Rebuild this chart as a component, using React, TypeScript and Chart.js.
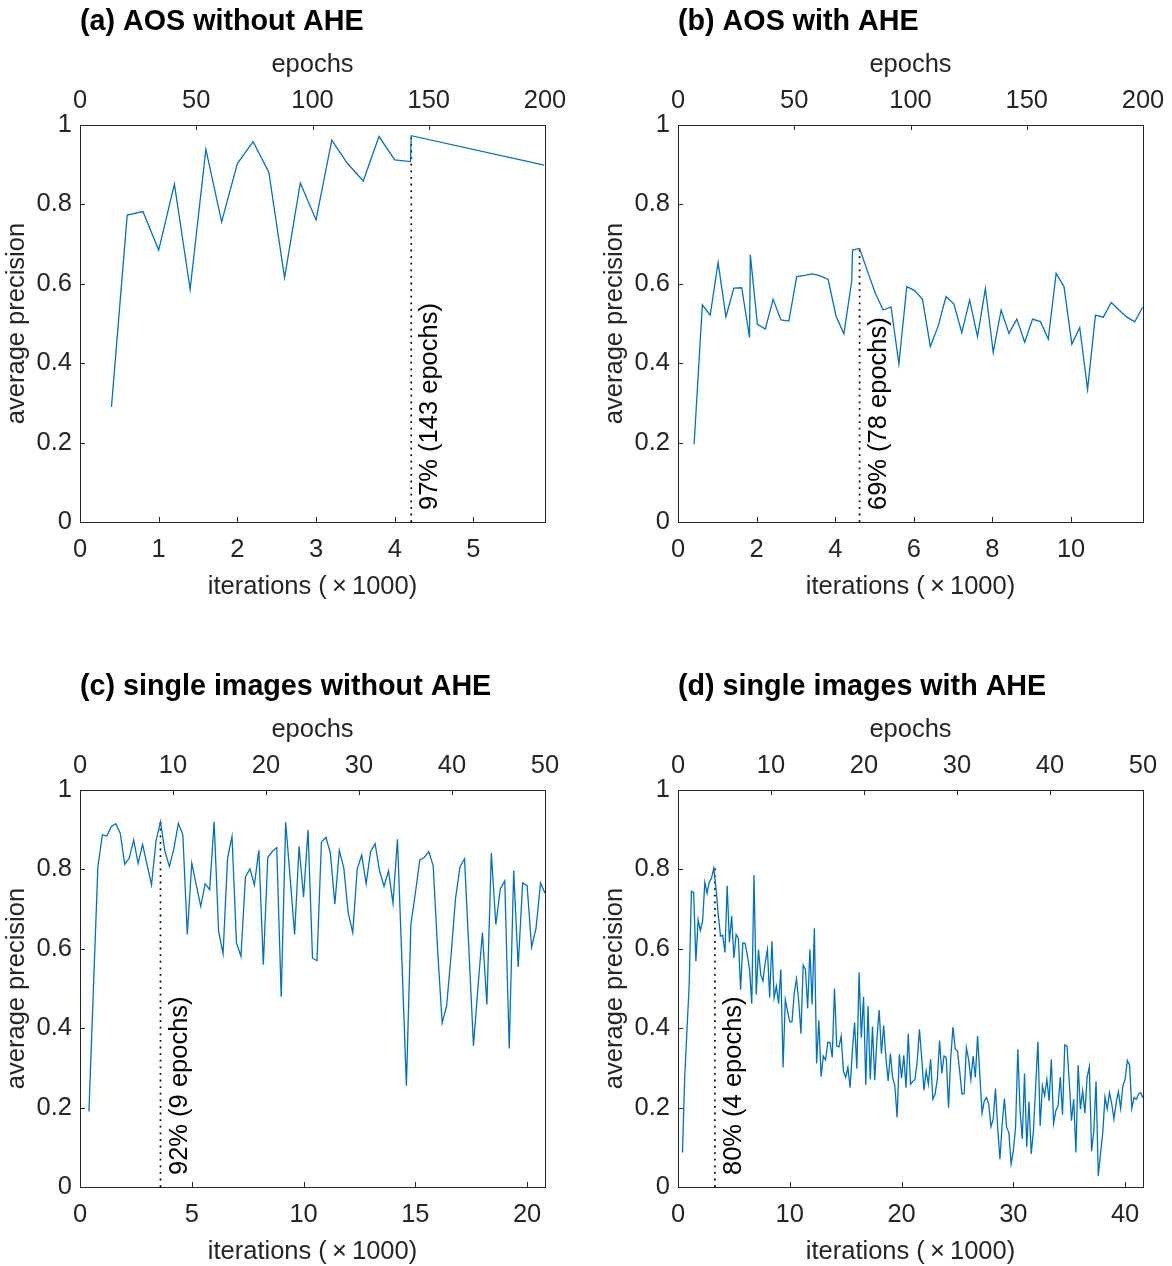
import React, { useEffect, useRef } from "react";
import { Chart, registerables } from "chart.js";

Chart.register(...registerables);

const FONT = '"Liberation Sans", Arial, Helvetica, sans-serif';
const LINE_BLUE = "#0072BD";
const AXIS_GRAY = "#262626";

// ---------- (a) AOS without AHE ----------
const aIter = [0.4, 0.6, 0.8, 1.0, 1.2, 1.4, 1.6, 1.8, 2.0, 2.2, 2.4, 2.6, 2.8, 3.0, 3.2, 3.4, 3.6, 3.8, 4.0, 4.2, 4.21, 5.9];
const aAP = [0.29, 0.773, 0.782, 0.685, 0.851, 0.586, 0.939, 0.756, 0.903, 0.958, 0.881, 0.615, 0.854, 0.761, 0.962, 0.903, 0.859, 0.971, 0.912, 0.908, 0.973, 0.899];

// ---------- (b) AOS with AHE ----------
const bIter = [0.41, 0.62, 0.82, 1.02, 1.22, 1.42, 1.62, 1.82, 1.84, 2.02, 2.22, 2.42, 2.62, 2.82, 3.02, 3.22, 3.42, 3.62, 3.82, 4.02, 4.22, 4.42, 4.44, 4.62, 4.82, 5.02, 5.22, 5.42, 5.62, 5.82, 6.02, 6.22, 6.42, 6.62, 6.82, 7.02, 7.22, 7.42, 7.62, 7.82, 8.02, 8.22, 8.42, 8.62, 8.82, 9.02, 9.22, 9.42, 9.62, 9.82, 10.02, 10.22, 10.42, 10.62, 10.82, 11.02, 11.22, 11.42, 11.62, 11.82];
const bAP = [0.196, 0.547, 0.521, 0.654, 0.517, 0.589, 0.59, 0.465, 0.673, 0.498, 0.486, 0.561, 0.509, 0.506, 0.618, 0.621, 0.625, 0.62, 0.611, 0.519, 0.474, 0.607, 0.685, 0.689, 0.632, 0.576, 0.534, 0.542, 0.398, 0.593, 0.583, 0.561, 0.442, 0.494, 0.568, 0.549, 0.477, 0.559, 0.467, 0.588, 0.427, 0.534, 0.475, 0.511, 0.453, 0.511, 0.505, 0.461, 0.626, 0.593, 0.448, 0.49, 0.334, 0.521, 0.516, 0.553, 0.534, 0.516, 0.504, 0.541];

// ---------- (c) single images without AHE (checkpoint every 0.2k iterations from 0.4k) ----------
const cFirstIter = 0.4;
const cIterStep = 0.2;
const cAP = [
  0.19, 0.5, 0.807, 0.887, 0.884, 0.908, 0.915, 0.891, 0.813, 0.828,
  0.874, 0.815, 0.863, 0.812, 0.761, 0.872, 0.92, 0.845, 0.807, 0.853,
  0.916, 0.887, 0.636, 0.816, 0.761, 0.707, 0.764, 0.749, 0.92, 0.644,
  0.587, 0.828, 0.883, 0.615, 0.581, 0.781, 0.801, 0.761, 0.848, 0.56,
  0.83, 0.845, 0.855, 0.479, 0.919, 0.778, 0.636, 0.858, 0.73, 0.899,
  0.577, 0.57, 0.869, 0.881, 0.841, 0.713, 0.848, 0.803, 0.69, 0.641,
  0.801, 0.836, 0.764, 0.845, 0.865, 0.796, 0.757, 0.796, 0.715, 0.876,
  0.569, 0.255, 0.661, 0.74, 0.824, 0.83, 0.845, 0.809, 0.594, 0.413,
  0.456, 0.585, 0.728, 0.807, 0.827, 0.594, 0.355, 0.502, 0.641, 0.46,
  0.841, 0.661, 0.751, 0.771, 0.349, 0.797, 0.554, 0.766, 0.759, 0.604,
  0.652, 0.766, 0.74,
];

// ---------- (d) single images with AHE (checkpoint every 0.2k iterations from 0.4k) ----------
const dFirstIter = 0.4;
const dIterStep = 0.2;
const dAP = [
  0.087, 0.276, 0.393, 0.51, 0.745, 0.742, 0.569, 0.673, 0.646, 0.669,
  0.767, 0.74, 0.768, 0.778, 0.803, 0.753, 0.686, 0.632, 0.634, 0.591,
  0.759, 0.616, 0.683, 0.577, 0.636, 0.627, 0.497, 0.615, 0.614, 0.585,
  0.548, 0.462, 0.786, 0.485, 0.598, 0.535, 0.519, 0.565, 0.598, 0.477,
  0.619, 0.477, 0.506, 0.462, 0.548, 0.301, 0.472, 0.443, 0.416, 0.416,
  0.489, 0.524, 0.468, 0.386, 0.559, 0.548, 0.45, 0.598, 0.46, 0.652,
  0.311, 0.42, 0.278, 0.33, 0.32, 0.364, 0.364, 0.326, 0.5, 0.355,
  0.353, 0.38, 0.292, 0.276, 0.301, 0.25, 0.343, 0.414, 0.298, 0.541,
  0.376, 0.479, 0.257, 0.456, 0.271, 0.404, 0.269, 0.376, 0.446, 0.336,
  0.407, 0.326, 0.267, 0.336, 0.276, 0.255, 0.175, 0.334, 0.274, 0.332,
  0.25, 0.386, 0.259, 0.266, 0.271, 0.317, 0.397, 0.326, 0.244, 0.292,
  0.259, 0.322, 0.221, 0.234, 0.271, 0.369, 0.286, 0.33, 0.326, 0.2,
  0.326, 0.403, 0.347, 0.343, 0.292, 0.234, 0.235, 0.351, 0.321, 0.271,
  0.33, 0.276, 0.38, 0.284, 0.186, 0.217, 0.225, 0.209, 0.152, 0.171,
  0.248, 0.15, 0.07, 0.158, 0.223, 0.15, 0.137, 0.058, 0.091, 0.15,
  0.347, 0.192, 0.121, 0.286, 0.101, 0.215, 0.083, 0.142, 0.255, 0.366,
  0.154, 0.255, 0.23, 0.271, 0.217, 0.322, 0.16, 0.192, 0.204, 0.277,
  0.182, 0.358, 0.355, 0.267, 0.167, 0.221, 0.087, 0.307, 0.196, 0.242,
  0.186, 0.276, 0.303, 0.09, 0.142, 0.266, 0.028, 0.083, 0.137, 0.227,
  0.196, 0.238, 0.21, 0.171, 0.213, 0.24, 0.198, 0.255, 0.271, 0.319,
  0.307, 0.198, 0.225, 0.221, 0.234, 0.238, 0.224,
];

// ---------- panel metadata ----------
const panelTitles = ["(a) AOS without AHE", "(b) AOS with AHE", "(c) single images without AHE", "(d) single images with AHE"];
const iterMax = [5.91, 11.83, 20.8, 41.6];
const iterTickStep = [1, 2, 5, 10];
const epochMax = [200, 200, 50, 50];
const epochTickStep = [50, 50, 10, 10];
const markerIter = [4.21, 4.62, 3.6, 3.3];
const markerAP = [0.973, 0.689, 0.92, 0.803];
const markerLabels = ["97% (143 epochs)", "69% (78 epochs)", "92% (9 epochs)", "80% (4 epochs)"];

const cIter = cAP.map((_, i) => +(cFirstIter + i * cIterStep).toFixed(2));
const dIter = dAP.map((_, i) => +(dFirstIter + i * dIterStep).toFixed(2));

const seriesIter = [aIter, bIter, cIter, dIter];
const seriesAP = [aAP, bAP, cAP, dAP];

const panelPos = [
  { left: 0, top: 0 },
  { left: 598, top: 0 },
  { left: 0, top: 665 },
  { left: 598, top: 665 },
];

const TICK_FONT = { family: FONT, size: 25.5 };

const zeroPad = (s: any) => {
  s.paddingLeft = 0;
  s.paddingRight = 0;
  s.paddingTop = 0;
  s.paddingBottom = 0;
};

const framePlugin = {
  id: "matlabFrame",
  afterDraw(chart: any, _args: any, opts: any) {
    const { ctx, chartArea: ca, scales } = chart;
    ctx.save();
    ctx.strokeStyle = AXIS_GRAY;
    ctx.lineWidth = 1;
    ctx.beginPath();
    const TL = 5;
    for (const t of scales.x.ticks) {
      const px = Math.round(scales.x.getPixelForValue(t.value)) + 0.5;
      ctx.moveTo(px, ca.bottom);
      ctx.lineTo(px, ca.bottom - TL);
    }
    for (const t of scales.x2.ticks) {
      const px = Math.round(scales.x2.getPixelForValue(t.value)) + 0.5;
      ctx.moveTo(px, ca.top);
      ctx.lineTo(px, ca.top + TL);
    }
    for (const t of scales.y.ticks) {
      const py = Math.round(scales.y.getPixelForValue(t.value)) + 0.5;
      ctx.moveTo(ca.left, py);
      ctx.lineTo(ca.left + TL, py);
    }
    ctx.stroke();
    ctx.strokeRect(Math.round(ca.left) + 0.5, Math.round(ca.top) + 0.5, Math.round(ca.right - ca.left), Math.round(ca.bottom - ca.top));

    // panel title
    ctx.fillStyle = "#000";
    ctx.font = `bold 28.7px ${FONT}`;
    ctx.textAlign = "left";
    ctx.textBaseline = "middle";
    ctx.fillText(opts.title, ca.left, 22.5);

    // rotated annotation next to the dotted marker line
    const px = scales.x.getPixelForValue(opts.markerIter);
    const py = scales.y.getPixelForValue(0);
    ctx.translate(px + 19, py - 12);
    ctx.rotate(-Math.PI / 2);
    ctx.font = `25.5px ${FONT}`;
    ctx.textAlign = "left";
    ctx.textBaseline = "middle";
    ctx.fillText(opts.label, 0, 0);
    ctx.restore();
  },
};

function Panel({ idx }: { idx: number }) {
  const ref = useRef<HTMLCanvasElement>(null);
  useEffect(() => {
    const iters = seriesIter[idx];
    const ap = seriesAP[idx];
    const chart = new Chart(ref.current as HTMLCanvasElement, {
      type: "line",
      data: {
        datasets: [
          {
            data: iters.map((x, i) => ({ x, y: ap[i] })),
            xAxisID: "x",
            yAxisID: "y",
            borderColor: LINE_BLUE,
            borderWidth: 1.3,
            pointRadius: 0,
            tension: 0,
            fill: false,
          },
          {
            data: [
              { x: markerIter[idx], y: 0 },
              { x: markerIter[idx], y: markerAP[idx] },
            ],
            xAxisID: "x",
            yAxisID: "y",
            borderColor: "#000",
            borderWidth: 1.7,
            borderDash: [1.8, 4.8],
            pointRadius: 0,
            fill: false,
          },
        ],
      } as any,
      options: {
        responsive: false,
        animation: false,
        devicePixelRatio: 1,
        events: [],
        layout: { padding: { left: 0, right: 27, top: 40, bottom: 0 } },
        plugins: {
          legend: { display: false },
          tooltip: { enabled: false },
          title: { display: false },
          matlabFrame: { title: panelTitles[idx], markerIter: markerIter[idx], label: markerLabels[idx] },
        } as any,
        scales: {
          x: {
            type: "linear",
            position: "bottom",
            min: 0,
            max: iterMax[idx],
            afterFit: (s: any) => {
              s.height = 78;
              zeroPad(s);
            },
            grid: { display: false, drawTicks: false },
            border: { display: false },
            ticks: {
              stepSize: iterTickStep[idx],
              includeBounds: false,
              padding: 13,
              font: TICK_FONT,
              color: AXIS_GRAY,
              maxRotation: 0,
              autoSkip: false,
            },
            title: {
              display: true,
              text: "iterations (\u2009\u00d7\u20091000)",
              font: TICK_FONT,
              color: AXIS_GRAY,
              padding: { top: 0, bottom: -2 },
            },
          },
          x2: {
            type: "linear",
            position: "top",
            axis: "x",
            min: 0,
            max: epochMax[idx],
            afterFit: (s: any) => {
              s.height = 85;
              zeroPad(s);
            },
            grid: { display: false, drawTicks: false },
            border: { display: false },
            ticks: {
              stepSize: epochTickStep[idx],
              padding: 9,
              font: TICK_FONT,
              color: AXIS_GRAY,
              maxRotation: 0,
              autoSkip: false,
            },
            title: {
              display: true,
              text: "epochs",
              font: TICK_FONT,
              color: AXIS_GRAY,
              padding: { top: 10, bottom: 0 },
            },
          },
          y: {
            type: "linear",
            position: "left",
            min: 0,
            max: 1,
            afterFit: (s: any) => {
              s.width = 80;
              zeroPad(s);
            },
            grid: { display: false, drawTicks: false },
            border: { display: false },
            ticks: {
              stepSize: 0.2,
              padding: 8,
              font: TICK_FONT,
              color: AXIS_GRAY,
              callback: (v: any) => String(Math.round(Number(v) * 10) / 10),
            },
            title: {
              display: true,
              text: "average precision",
              font: TICK_FONT,
              color: AXIS_GRAY,
              padding: { top: 2, bottom: 0 },
            },
          },
        } as any,
      },
      plugins: [framePlugin as any],
    });
    return () => chart.destroy();
  }, [idx]);

  const pos = panelPos[idx];
  return (
    <canvas
      ref={ref}
      width={572}
      height={600}
      style={{ position: "absolute", left: pos.left, top: pos.top, width: 572, height: 600 }}
    />
  );
}

export default function App() {
  return (
    <div style={{ position: "absolute", left: 0, top: 0, width: 1172, height: 1266, background: "#fff", overflow: "hidden" }}>
      {[0, 1, 2, 3].map((i) => (
        <Panel key={i} idx={i} />
      ))}
    </div>
  );
}
